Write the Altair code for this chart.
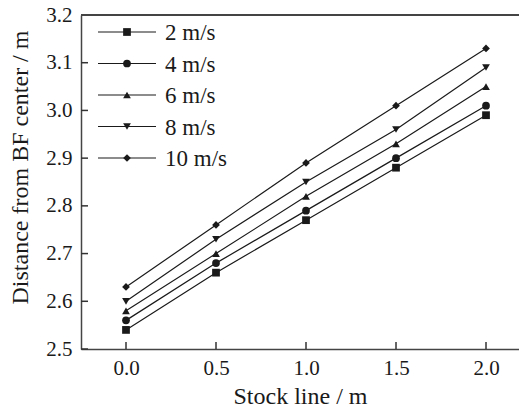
import altair as alt
import pandas as pd

stock_line = [0.0, 0.5, 1.0, 1.5, 2.0]
series_names = ["2 m/s", "4 m/s", "6 m/s", "8 m/s", "10 m/s"]
v2 = [2.54, 2.66, 2.77, 2.88, 2.99]
v4 = [2.56, 2.68, 2.79, 2.90, 3.01]
v6 = [2.58, 2.70, 2.82, 2.93, 3.05]
v8 = [2.60, 2.73, 2.85, 2.96, 3.09]
v10 = [2.63, 2.76, 2.89, 3.01, 3.13]
x_ticks = [0.0, 0.5, 1.0, 1.5, 2.0]
y_ticks = [2.5, 2.6, 2.7, 2.8, 2.9, 3.0, 3.1, 3.2]

rows = []
for name, vals in zip(series_names, [v2, v4, v6, v8, v10]):
    for x, y in zip(stock_line, vals):
        rows.append({"series": name, "x": x, "y": y})
df = pd.DataFrame(rows)
legend_df = pd.DataFrame({"series": series_names})

W, H = 438, 334
FONT = "Liberation Serif"
INK = "#1a1a1a"

xs = alt.Scale(domain=[-0.25, 2.1833], nice=False, zero=False)
ys = alt.Scale(domain=[2.5, 3.2], nice=False, zero=False)
# row positions of the in-plot legend (pixel band inside the plot area)
legend_rows = alt.Scale(type="point", domain=series_names, range=[17, 143], padding=0)

plot_shapes = ["square", "circle", "triangle-up", "triangle-down", "diamond"]

x_axis = alt.Axis(values=x_ticks, format=".1f", ticks=False, grid=False,
                  title="Stock line / m", labelPadding=8, titlePadding=6)
y_axis = alt.Axis(values=y_ticks, format=".1f", ticks=False, grid=False,
                  title="Distance from BF center / m", labelPadding=9, titlePadding=13,
                  titleY=152)

base = alt.Chart(df)

lines = base.mark_line(color=INK, strokeWidth=1.2).encode(
    x=alt.X("x:Q", scale=xs, axis=x_axis),
    y=alt.Y("y:Q", scale=ys, axis=y_axis),
    detail="series:N",
)

point_layers = []
for name, shp in zip(series_names, plot_shapes):
    point_layers.append(
        base.transform_filter(alt.datum.series == name)
        .mark_point(filled=True, color=INK, opacity=1, size=60, shape=shp)
        .encode(x=alt.X("x:Q", scale=xs), y=alt.Y("y:Q", scale=ys, axis=None))
    )

lg = alt.Chart(legend_df)
legend_lines = lg.mark_rule(color=INK, strokeWidth=1.2).encode(
    y=alt.Y("series:N", scale=legend_rows, axis=None),
    x=alt.value(17), x2=alt.value(75),
)
legend_points = []
for name, shp in zip(series_names, plot_shapes):
    legend_points.append(
        lg.transform_filter(alt.datum.series == name)
        .mark_point(filled=True, color=INK, opacity=1, size=60, shape=shp)
        .encode(y=alt.Y("series:N", scale=legend_rows, axis=None), x=alt.value(46))
    )
legend_text = lg.mark_text(align="left", baseline="middle", font=FONT, fontSize=23,
                           color=INK, dy=1).encode(
    y=alt.Y("series:N", scale=legend_rows, axis=None),
    x=alt.value(84),
    text="series:N",
)

ytick_df = pd.DataFrame({"v": y_ticks})
xtick_df = pd.DataFrame({"v": x_ticks})

yticks = alt.Chart(ytick_df).mark_rule(color="#333", strokeWidth=1.5).encode(
    y=alt.Y("v:Q", scale=ys, axis=None), x=alt.value(0), x2=alt.value(7)
)
xticks = alt.Chart(xtick_df).mark_rule(color="#333", strokeWidth=1.5).encode(
    x=alt.X("v:Q", scale=xs), y=alt.value(H), y2=alt.value(H - 7)
)
top_border = alt.Chart(ytick_df).mark_rule(color="#444", strokeWidth=1.5).encode(
    x=alt.value(0), x2=alt.value(W), y=alt.value(0)
)

chart = (
    alt.layer(lines, *point_layers, yticks, xticks, top_border,
              legend_lines, *legend_points, legend_text)
    .resolve_scale(y="independent")
    .properties(
        width=W, height=H,
        background="white",
        autosize=alt.AutoSizeParams(type="none"),
        padding={"left": 81, "top": 15, "right": 0, "bottom": 58},
    )
    .configure_view(stroke=None)
    .configure_axis(
        domainColor="#444", domainWidth=1.5,
        labelFont=FONT, labelFontSize=21, labelColor=INK,
        titleFont=FONT, titleFontSize=24, titleColor=INK, titleFontWeight="normal",
    )
)

chart.save("out.html", embed_options={"renderer": "svg", "actions": False})
